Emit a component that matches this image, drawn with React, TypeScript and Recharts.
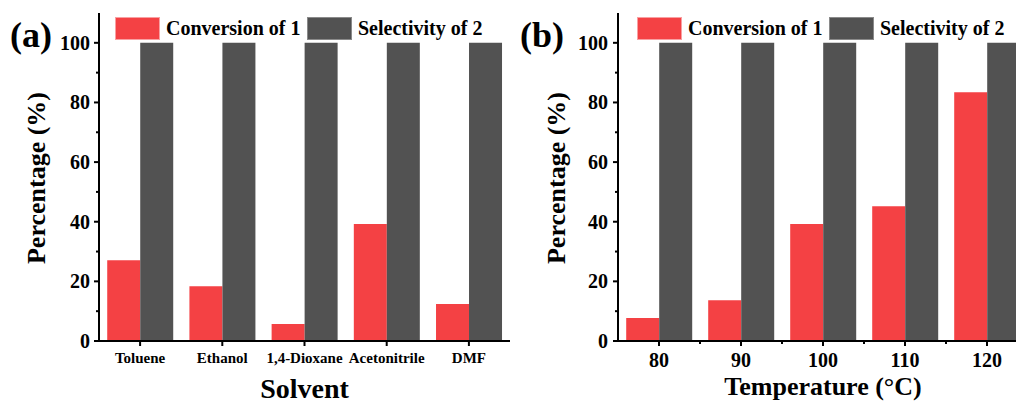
import React from 'react';
import { BarChart, Bar, XAxis, YAxis, Legend } from 'recharts';

// ---- data ----
const solvents = ['Toluene', 'Ethanol', '1,4-Dioxane', 'Acetonitrile', 'DMF'];
const solventConversion = [27.1, 18.4, 5.7, 39.2, 12.4];
const solventSelectivity = [100, 100, 100, 100, 100];

const temperatures = ['80', '90', '100', '110', '120'];
const tempConversion = [7.7, 13.7, 39.2, 45.2, 83.4];
const tempSelectivity = [100, 100, 100, 100, 100];

const yTicks = [0, 10, 20, 30, 40, 50, 60, 70, 80, 90, 100];
const seriesNames = ['Conversion of 1', 'Selectivity of 2'];

const RED = '#F44144';
const GRAY = '#525252';
const FONT = '"Liberation Serif", "Times New Roman", serif';
const CH = 397;

const solventData = solvents.map((n, i) => ({ name: n, conv: solventConversion[i], sel: solventSelectivity[i] }));
const tempData = temperatures.map((n, i) => ({ name: n, conv: tempConversion[i], sel: tempSelectivity[i] }));

const axisStyle = { stroke: '#000', strokeWidth: 2 };

const renderLegend = (props: any) => {
  const payload = props.payload || [];
  return (
    <svg width={400} height={26} style={{ display: 'block', overflow: 'visible' }}>
      {payload.map((p: any, i: number) => (
        <g key={i} transform={`translate(${i * 192},0)`}>
          <rect x={0.5} y={0.5} width={44} height={22} fill={p.color} stroke={i === 0 ? '#F9A0A2' : '#8A8A8A'} strokeWidth={1} />
          <text x={51} y={18} fontFamily={FONT} fontWeight="bold" fontSize={20} fill="#000">{p.value}</text>
        </g>
      ))}
    </svg>
  );
};

const makeYTick = (gap: number) => (props: any) => {
  const { x, y, payload } = props;
  const v = payload.value;
  const major = v % 20 === 0;
  return (
    <g>
      <line x1={x} x2={x - (major ? 5 : 3)} y1={y} y2={y} stroke="#000" strokeWidth={2} />
      {major && (
        <text x={x - gap} y={y + 7} textAnchor="end" fontFamily={FONT} fontWeight="bold" fontSize={20} fill="#000">{v}</text>
      )}
    </g>
  );
};

const SolventTick = (props: any) => {
  const { x, y, payload } = props;
  return (
    <g>
      <line x1={x} x2={x} y1={y} y2={y + 5} stroke="#000" strokeWidth={2} />
      <text x={x} y={y + 22} textAnchor="middle" fontFamily={FONT} fontWeight="bold" fontSize={15} fill="#000">{payload.value}</text>
    </g>
  );
};

const TempTick = (props: any) => {
  const { x, y, payload, index } = props;
  return (
    <g>
      <line x1={x} x2={x} y1={y} y2={y + 5} stroke="#000" strokeWidth={2} />
      {index > 0 && <line x1={x - 41} x2={x - 41} y1={y} y2={y + 3} stroke="#000" strokeWidth={2} />}
      <text x={x} y={y + 26} textAnchor="middle" fontFamily={FONT} fontWeight="bold" fontSize={20} fill="#000">{payload.value}</text>
    </g>
  );
};

type PanelProps = {
  data: any[];
  width: number;
  plotLeft: number;
  plotRight: number;
  letter: string;
  letterX: number;
  yLabelX: number;
  yGap: number;
  xTitle: string;
  xTitleY: number;
  xTitleSize: number;
  tick: any;
  legendX: number;
};

function Panel(p: PanelProps) {
  const cx = (p.plotLeft + p.plotRight) / 2;
  return (
    <BarChart
      width={p.width}
      height={CH}
      data={p.data}
      margin={{ top: 5, right: p.width - p.plotRight, left: 0, bottom: 0 }}
      barCategoryGap="10%"
      barGap={0}
    >
      <XAxis
        dataKey="name"
        height={CH - 5 - 328}
        interval={0}
        tickSize={0}
        tickMargin={0}
        tickLine={false}
        axisLine={axisStyle}
        tick={p.tick}
        label={() => (
          <text x={cx} y={p.xTitleY} textAnchor="middle" fontFamily={FONT} fontWeight="bold" fontSize={p.xTitleSize} fill="#000">{p.xTitle}</text>
        )}
      />
      <XAxis xAxisId="top" orientation="top" dataKey="name" height={0} tick={false} tickLine={false} axisLine={axisStyle} />
      <YAxis
        width={p.plotLeft}
        domain={[0, 110]}
        ticks={yTicks}
        interval={0}
        tickSize={0}
        tickMargin={0}
        tickLine={false}
        axisLine={axisStyle}
        tick={makeYTick(p.yGap)}
        label={() => (
          <g>
            <text x={p.letterX} y={39} fontFamily={FONT} fontWeight="bold" fontSize={36} fill="#000">{p.letter}</text>
            <text
              x={p.yLabelX}
              y={170}
              transform={`rotate(-90, ${p.yLabelX}, 170)`}
              textAnchor="middle"
              fontFamily={FONT}
              fontWeight="bold"
              fontSize={26}
              fill="#000"
            >
              Percentage (%)
            </text>
          </g>
        )}
      />
      <YAxis yAxisId="right" orientation="right" width={0} domain={[0, 110]} tick={false} tickLine={false} axisLine={axisStyle} />
      <Legend
        verticalAlign="middle"
        align="center"
        layout="horizontal"
        wrapperStyle={{ top: 9, left: p.legendX, width: 400, height: 26 }}
        content={renderLegend}
      />
      <Bar dataKey="conv" name={seriesNames[0]} fill={RED} isAnimationActive={false} />
      <Bar dataKey="sel" name={seriesNames[1]} fill={GRAY} isAnimationActive={false} />
    </BarChart>
  );
}

export default function App() {
  return (
    <div style={{ position: 'relative', width: 1016, height: CH, overflow: 'hidden', background: '#fff' }}>
      <div style={{ position: 'absolute', left: 0, top: 0 }}>
        <Panel
          data={solventData}
          width={520}
          plotLeft={91}
          plotRight={502}
          letter="(a)"
          letterX={2}
          yLabelX={37}
          yGap={9}
          xTitle="Solvent"
          xTitleY={390}
          xTitleSize={28}
          tick={SolventTick}
          legendX={107}
        />
      </div>
      <div style={{ position: 'absolute', left: 500, top: 0 }}>
        <Panel
          data={tempData}
          width={530}
          plotLeft={110}
          plotRight={520}
          letter="(b)"
          letterX={12}
          yLabelX={57}
          yGap={10}
          xTitle="Temperature (°C)"
          xTitleY={387}
          xTitleSize={26}
          tick={TempTick}
          legendX={129}
        />
      </div>
    </div>
  );
}
